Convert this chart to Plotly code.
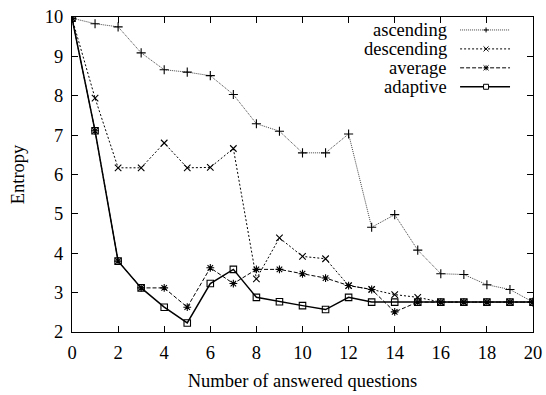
import plotly.graph_objects as go

questions = list(range(21))
ascending = [9.97, 9.83, 9.75, 9.09, 8.66, 8.60, 8.51, 8.03, 7.29, 7.10, 6.55,
             6.55, 7.03, 4.66, 4.98, 4.08, 3.48, 3.46, 3.20, 3.08, 2.76]
descending = [9.97, 7.94, 6.17, 6.17, 6.80, 6.17, 6.18, 6.66, 3.35, 4.39, 3.92,
              3.86, 3.18, 3.08, 2.95, 2.88, 2.76, 2.76, 2.76, 2.76, 2.76]
average = [9.97, 7.11, 3.80, 3.12, 3.12, 2.63, 3.63, 3.23, 3.59, 3.59, 3.48,
           3.37, 3.18, 3.08, 2.51, 2.76, 2.76, 2.76, 2.76, 2.76, 2.76]
adaptive = [9.97, 7.11, 3.80, 3.12, 2.63, 2.23, 3.23, 3.59, 2.88, 2.77, 2.67,
            2.57, 2.88, 2.76, 2.76, 2.76, 2.76, 2.76, 2.76, 2.76, 2.76]

x_ticks = list(range(0, 21, 2))
y_ticks = list(range(2, 11))

FONT = "Liberation Serif, Times New Roman, serif"
FS = 18.5
W, H = 546, 395
ML, MR, MT, MB = 71.5, 13, 16.5, 62.5
PW, PH = W - ML - MR, H - MT - MB

series = [
    ("ascending", ascending, "cross-thin-open", dict(color="#444", width=1, dash="1px,1px"), "plus"),
    ("descending", descending, "x-thin-open", dict(color="black", width=1, dash="2px,2px"), "x"),
    ("average", average, "asterisk-open", dict(color="black", width=1, dash="4px,2px"), "ast"),
    ("adaptive", adaptive, "square-open", dict(color="black", width=1.5), "sq"),
]

fig = go.Figure()
for name, vals, sym, line, _ in series:
    fig.add_trace(go.Scatter(
        x=questions, y=vals, name=name, mode="lines+markers",
        line=line,
        marker=dict(symbol=sym, size=6.5, color="black", line=dict(color="black", width=1.1)),
        showlegend=False,
    ))


def px2x(px):
    return (px - ML) / PW


def px2y(py):
    return (H - MB - py) / PH


shapes = []
annotations = []
row_y = [29.5, 48.5, 67.5, 86.5]
for (name, vals, sym, line, mk), py in zip(series, row_y):
    annotations.append(dict(
        text=name, x=px2x(449), y=px2y(py), xref="paper", yref="paper",
        xanchor="right", yanchor="middle", showarrow=False,
        font=dict(family=FONT, size=FS, color="black"),
    ))
    shapes.append(dict(
        type="line", xref="paper", yref="paper",
        x0=px2x(460), x1=px2x(510), y0=px2y(py), y1=px2y(py),
        line=dict(color=line["color"], width=line["width"], dash=line.get("dash", "solid")),
    ))
    cx, r = 486, 2.5
    segs = []
    if mk in ("plus", "ast"):
        segs += [((cx - r, py), (cx + r, py)), ((cx, py - r), (cx, py + r))]
    if mk in ("x", "ast"):
        segs += [((cx - r, py - r), (cx + r, py + r)), ((cx - r, py + r), (cx + r, py - r))]
    for (a, b) in segs:
        shapes.append(dict(
            type="line", xref="paper", yref="paper",
            x0=px2x(a[0]), y0=px2y(a[1]), x1=px2x(b[0]), y1=px2y(b[1]),
            line=dict(color="black", width=1),
        ))
    if mk == "sq":
        shapes.append(dict(
            type="rect", xref="paper", yref="paper",
            x0=px2x(cx - r), x1=px2x(cx + r), y0=px2y(py - r), y1=px2y(py + r),
            line=dict(color="black", width=1), fillcolor="white",
        ))

axis_common = dict(
    showgrid=False, zeroline=False, showline=True, linecolor="black", linewidth=1,
    mirror="ticks", ticks="inside", ticklen=6, tickcolor="black", tickwidth=1,
    tickfont=dict(family=FONT, size=FS, color="black"), automargin=False,
)

fig.update_layout(
    width=W, height=H,
    margin=dict(l=ML, r=MR, t=MT, b=MB, autoexpand=False),
    paper_bgcolor="white", plot_bgcolor="white",
    font=dict(family=FONT, size=FS, color="black"),
    xaxis=dict(range=[0, 20], tickvals=x_ticks, ticktext=[str(v) for v in x_ticks],
               title=dict(text="Number of answered questions", standoff=11,
                          font=dict(family=FONT, size=FS)),
               ticklabelstandoff=4, **axis_common),
    yaxis=dict(range=[2, 10], tickvals=y_ticks, ticktext=[str(v) for v in y_ticks],
               title=dict(text="Entropy", standoff=15, font=dict(family=FONT, size=FS)),
               ticklabelstandoff=4, **axis_common),
    shapes=shapes,
    annotations=annotations,
)

fig.write_html("out.html", config={"displayModeBar": False},
               post_script="document.body.style.margin='0';")
